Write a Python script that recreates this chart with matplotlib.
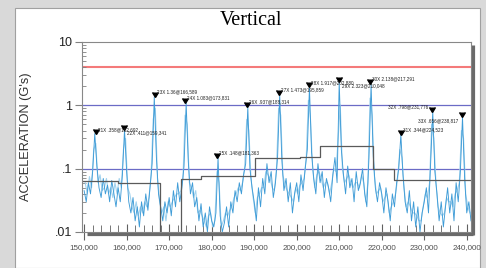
import numpy as np
import matplotlib.pyplot as plt
from matplotlib.patches import Rectangle
from matplotlib.ticker import LogLocator, NullFormatter, FuncFormatter

#--------- data ---------
# main acceleration trace, one value per 500 units from 150,000 to 241,000
t_start, t_stop, t_step = 150000, 241000, 500
acc = [
    # 150,000 - 159,500
    0.045, 0.03, 0.06, 0.04, 0.09, 0.358, 0.11, 0.05, 0.035, 0.07,
    0.04, 0.055, 0.03, 0.065, 0.04, 0.025, 0.05, 0.03, 0.08, 0.411,
    # 160,000 - 169,500
    0.09, 0.03, 0.02, 0.035, 0.015, 0.025, 0.012, 0.03, 0.018, 0.04,
    0.022, 0.05, 0.12, 1.36, 0.15, 0.04, 0.025, 0.015, 0.03, 0.02,
    # 170,000 - 179,500
    0.035, 0.018, 0.045, 0.025, 0.06, 0.03, 0.05, 0.11, 1.083, 0.13,
    0.04, 0.06, 0.025, 0.035, 0.015, 0.028, 0.012, 0.02, 0.01, 0.025,
    # 180,000 - 189,500
    0.015, 0.012, 0.02, 0.148, 0.018, 0.01, 0.014, 0.025, 0.012, 0.03,
    0.02, 0.045, 0.03, 0.06, 0.04, 0.08, 0.12, 0.937, 0.1, 0.05,
    # 190,000 - 199,500
    0.03, 0.015, 0.05, 0.025, 0.07, 0.04, 0.12, 0.06, 0.09, 0.035,
    0.06, 0.15, 1.473, 0.14, 0.045, 0.07, 0.03, 0.06, 0.02, 0.04,
    # 200,000 - 209,500
    0.06, 0.03, 0.08, 0.045, 0.1, 0.2, 1.917, 0.18, 0.07, 0.04,
    0.12, 0.06, 0.09, 0.035, 0.07, 0.05, 0.03, 0.08, 0.15, 0.06,
    # 210,000 - 219,500
    2.323, 0.2, 0.08, 0.04, 0.11, 0.05, 0.07, 0.03, 0.09, 0.045,
    0.06, 0.1, 0.04, 0.025, 0.15, 2.138, 0.16, 0.05, 0.03, 0.06,
    # 220,000 - 229,500
    0.04, 0.02, 0.05, 0.03, 0.015, 0.04, 0.025, 0.06, 0.1, 0.344,
    0.08, 0.03, 0.02, 0.045, 0.015, 0.03, 0.012, 0.025, 0.01, 0.02,
    # 230,000 - 241,000
    0.03, 0.05, 0.02, 0.12, 0.798, 0.09, 0.04, 0.015, 0.03, 0.012,
    0.025, 0.05, 0.02, 0.04, 0.015, 0.06, 0.03, 0.09, 0.656, 0.07,
    0.02, 0.03, 0.015,
]

# second (lighter) trace, one value per 500 units from 150,250 to 240,750
t2_start, t2_stop = 150250, 240750
acc2 = [
    0.06, 0.04, 0.075, 0.05, 0.2, 0.25, 0.06, 0.08, 0.045, 0.05,
    0.07, 0.04, 0.05, 0.035, 0.06, 0.04, 0.07, 0.05, 0.2, 0.3,
    0.05, 0.04, 0.025, 0.02, 0.03, 0.018, 0.025, 0.02, 0.03, 0.025,
    0.035, 0.08, 0.6, 0.9, 0.07, 0.03, 0.02, 0.025, 0.015, 0.03,
    0.025, 0.03, 0.035, 0.04, 0.04, 0.045, 0.07, 0.7, 0.5, 0.06,
    0.05, 0.035, 0.045, 0.02, 0.022, 0.018, 0.015, 0.012, 0.018, 0.02,
    0.012, 0.015, 0.09, 0.06, 0.012, 0.015, 0.02, 0.018, 0.022, 0.025,
    0.035, 0.04, 0.05, 0.045, 0.06, 0.1, 0.6, 0.4, 0.07, 0.035,
    0.02, 0.035, 0.04, 0.05, 0.05, 0.09, 0.08, 0.07, 0.05, 0.045,
    0.1, 0.9, 0.7, 0.08, 0.055, 0.045, 0.04, 0.035, 0.03, 0.05,
    0.04, 0.055, 0.06, 0.07, 0.15, 1.2, 0.6, 0.1, 0.05, 0.08,
    0.09, 0.07, 0.05, 0.06, 0.06, 0.04, 0.06, 0.1, 0.09, 0.3,
    1.0, 0.1, 0.06, 0.07, 0.08, 0.06, 0.05, 0.06, 0.06, 0.05,
    0.08, 0.06, 0.03, 0.06, 1.3, 0.7, 0.08, 0.04, 0.045, 0.05,
    0.03, 0.035, 0.04, 0.02, 0.025, 0.03, 0.04, 0.07, 0.2, 0.15,
    0.05, 0.025, 0.03, 0.025, 0.02, 0.02, 0.018, 0.015, 0.015, 0.025,
    0.04, 0.035, 0.06, 0.5, 0.3, 0.06, 0.025, 0.02, 0.018, 0.02,
    0.035, 0.03, 0.03, 0.025, 0.04, 0.045, 0.06, 0.4, 0.3, 0.04,
    0.025, 0.02,
]

# envelope (step line)
step_x = [149500, 158000, 167800, 172800, 177600, 190100, 200700, 205400, 217900, 222900, 241000]
step_y = [0.063, 0.059, 0.005, 0.069, 0.076, 0.145, 0.152, 0.225, 0.1, 0.067, 0.067]

# peak markers
peak_id = ['21X', '22X', '23X', '24X', '25X', '26X', '27X', '28X', '29X', '30X', '31X', '32X', '33X']
peak_x = [152692, 159341, 166589, 173831, 181363, 188314, 195859, 202880, 210048, 217291, 224523, 231776, 238817]
peak_y = [0.358, 0.411, 1.36, 1.083, 0.148, 0.937, 1.473, 1.917, 2.323, 2.138, 0.344, 0.798, 0.656]

# reference levels
red_level = 4.0
blue_levels = [1.0, 0.1]

y_ticks = [10, 1, 0.1, 0.01]
y_ticklabels = ['10', '1', '.1', '.01']

t = np.arange(t_start, t_stop + 1, t_step)
t2 = np.arange(t2_start, t2_stop + 1, t_step)

#--------- figure ---------
W, H = 486, 268
fig = plt.figure(figsize=(W/100, H/100), dpi=100)
fig.patch.set_facecolor('#d9d9d9')
fig.add_artist(Rectangle((15/W, 0), (480-15)/W, (H-8)/H, transform=fig.transFigure,
                         facecolor='white', edgecolor='#a0a0a0', lw=0.8, zorder=-1))

ax = fig.add_axes([82/W, 1-232/H, (471-82)/W, (232-42)/H])

ax.axhline(red_level, color='#f47a7a', lw=1.5, zorder=1)
for lv in blue_levels:
    ax.axhline(lv, color='#6b6bc6', lw=0.9, zorder=1)

ax.plot(t2, acc2, color='#a3d3ee', lw=0.8, zorder=2)
ax.plot(t, acc, color='#3f9cd7', lw=0.65, zorder=2.1)
ax.step(step_x, step_y, where='post', color='#5a5a5a', lw=0.9, zorder=2.2)

ax.plot(peak_x, peak_y, ls='none', marker=7, ms=5, color='black', zorder=3)

# label offsets (pixels) and alignment
offs = [(2, 4), (3, -3), (2, 5), (2, 5), (2, 5), (2, 5), (2, 5), (2, 5), (3, -4), (2, 6), (2, 5), (-4, 5), (-3, -4)]
for pid, px, py, (dx, dy) in zip(peak_id, peak_x, peak_y, offs):
    txt = '%s %s@%s' % (pid, ('%g' % py).lstrip('0'), format(px, ','))
    ax.annotate(txt, (px, py), xytext=(dx, dy), textcoords='offset pixels',
                fontsize=3.3, family='Liberation Sans', color='#202020',
                ha='left' if dx > 0 else 'right', va='center', zorder=4)

ax.set_yscale('log')
ax.set_ylim(0.01, 10)
ax.set_xlim(149500, 241000)

ax.set_yticks(y_ticks)
ax.set_yticklabels(y_ticklabels)
ax.yaxis.set_minor_locator(LogLocator(subs=range(2, 10)))
ax.yaxis.set_minor_formatter(NullFormatter())
ax.tick_params(axis='y', which='major', direction='out', length=5, width=0.8,
               color='#808080', labelsize=9, pad=2, labelcolor='#222222')
ax.tick_params(axis='y', which='minor', direction='in', length=3, width=0.6, color='#808080')

ax.set_xticks(np.arange(150000, 240001, 10000))
ax.set_xticks(np.arange(150000, 241001, 2000), minor=True)
ax.xaxis.set_major_formatter(FuncFormatter(lambda v, p: format(int(v), ',')))
ax.tick_params(axis='x', which='major', direction='inout', length=12, width=0.8,
               color='#606060', labelsize=5.8, pad=3, labelcolor='#505050')
ax.tick_params(axis='x', which='minor', direction='in', length=5, width=0.6, color='#606060')

for lab in ax.get_xticklabels() + ax.get_yticklabels():
    lab.set_family('Liberation Sans')

for s in ax.spines.values():
    s.set_color('#888888')
    s.set_linewidth(0.8)

# shadow frame on bottom and right
ax.plot([0.012, 1.006], [-0.0105, -0.0105], transform=ax.transAxes, color='#6a6a6a',
        lw=2.3, clip_on=False, solid_capstyle='butt', zorder=5)
ax.plot([1.006, 1.006], [-0.018, 0.984], transform=ax.transAxes, color='#6a6a6a',
        lw=2.3, clip_on=False, solid_capstyle='butt', zorder=5)

ax.set_ylabel("ACCELERATION (G's)", fontsize=9.2, family='Liberation Sans', color='#303030')
ax.yaxis.set_label_coords(-0.128, 0.5)

fig.text(251/W, 1-25/H, 'Vertical', fontsize=14.5, family='Liberation Serif',
         ha='center', va='baseline')

fig.savefig('out.png', dpi=100, facecolor=fig.get_facecolor())
